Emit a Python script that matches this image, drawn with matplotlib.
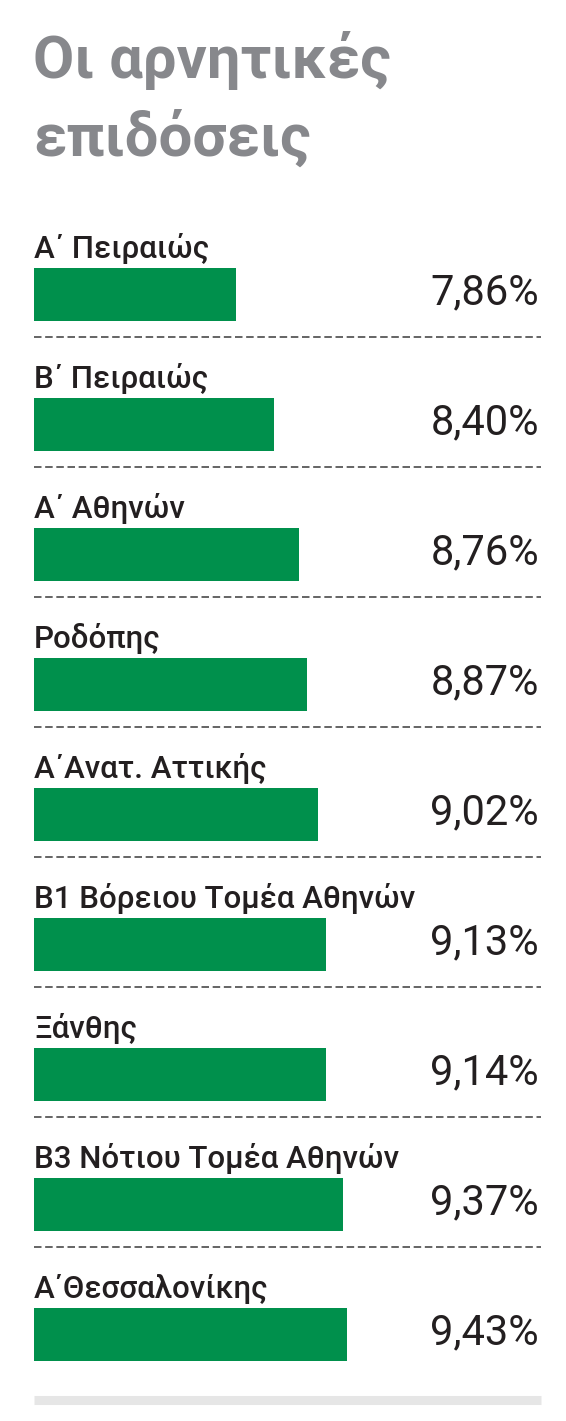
import matplotlib
matplotlib.use("Agg")
import matplotlib.pyplot as plt
import matplotlib.transforms as mtransforms

title_lines = ["Οι αρνητικές", "επιδόσεις"]
districts = ["Α΄ Πειραιώς", "Β΄ Πειραιώς", "Α΄ Αθηνών", "Ροδόπης",
             "Α΄Ανατ. Αττικής", "Β1 Βόρειου Τομέα Αθηνών", "Ξάνθης",
             "Β3 Νότιου Τομέα Αθηνών", "Α΄Θεσσαλονίκης"]
values = [7.86, 8.40, 8.76, 8.87, 9.02, 9.13, 9.14, 9.37, 9.43]
value_labels = ["7,86%", "8,40%", "8,76%", "8,87%", "9,02%", "9,13%",
                "9,14%", "9,37%", "9,43%"]

W, H = 566, 1421
fig = plt.figure(figsize=(W / 100, H / 100), dpi=100)
fig.patch.set_facecolor("white")

# title
title_color = "#87888c"
fig.text(33 / W, 1 - 78 / H, title_lines[0], fontsize=43, fontweight="bold",
         family="Roboto", color=title_color, va="baseline", ha="left")
fig.text(33 / W, 1 - 156 / H, title_lines[1], fontsize=43, fontweight="bold",
         family="Roboto", color=title_color, va="baseline", ha="left")

# rows axis: row i centre at 294.5 + 130*i px from top
pitch = 130.0
c0 = 294.5
top_row, bot_row = -0.8, 8.65
top_px = c0 + pitch * top_row
bot_px = c0 + pitch * bot_row
left_px, right_px = 34, 541
ax = fig.add_axes([left_px / W, 1 - bot_px / H, (right_px - left_px) / W,
                   (bot_px - top_px) / H])
ax.set_ylim(bot_row, top_row)
base = 5.0
ax.set_xlim(base, base + (right_px - left_px) / 70.6)
ax.axis("off")

rows = list(range(len(values)))
ax.barh(rows, [v - base for v in values], left=base, height=53 / pitch,
        color="#00904c", edgecolor="none")

blend = mtransforms.blended_transform_factory(ax.transAxes, ax.transData)
for i, (name, lab) in enumerate(zip(districts, value_labels)):
    ax.text(0, i - (c0 - 258) / pitch, name, transform=blend, ha="left",
            va="baseline", fontsize=22.5, fontweight="medium", family="Roboto",
            color="#231f20")
    ax.text(0.996, i + (304 - c0) / pitch, lab, transform=blend, ha="right",
            va="baseline", fontsize=30, fontweight="normal", family="Roboto",
            color="#231f20")
    if i < len(values) - 1:
        ax.plot([0, 1], [i + (337 - c0) / pitch] * 2, transform=blend,
                color="#4a4a4a", lw=1.2, linestyle=(0, (4.5, 2.2)),
                clip_on=False)

ax.plot([0, 1], [8.5, 8.5], transform=blend, color="#e6e6e6", lw=6.5,
        solid_capstyle="butt", clip_on=False)

fig.savefig("out.png", dpi=100)
